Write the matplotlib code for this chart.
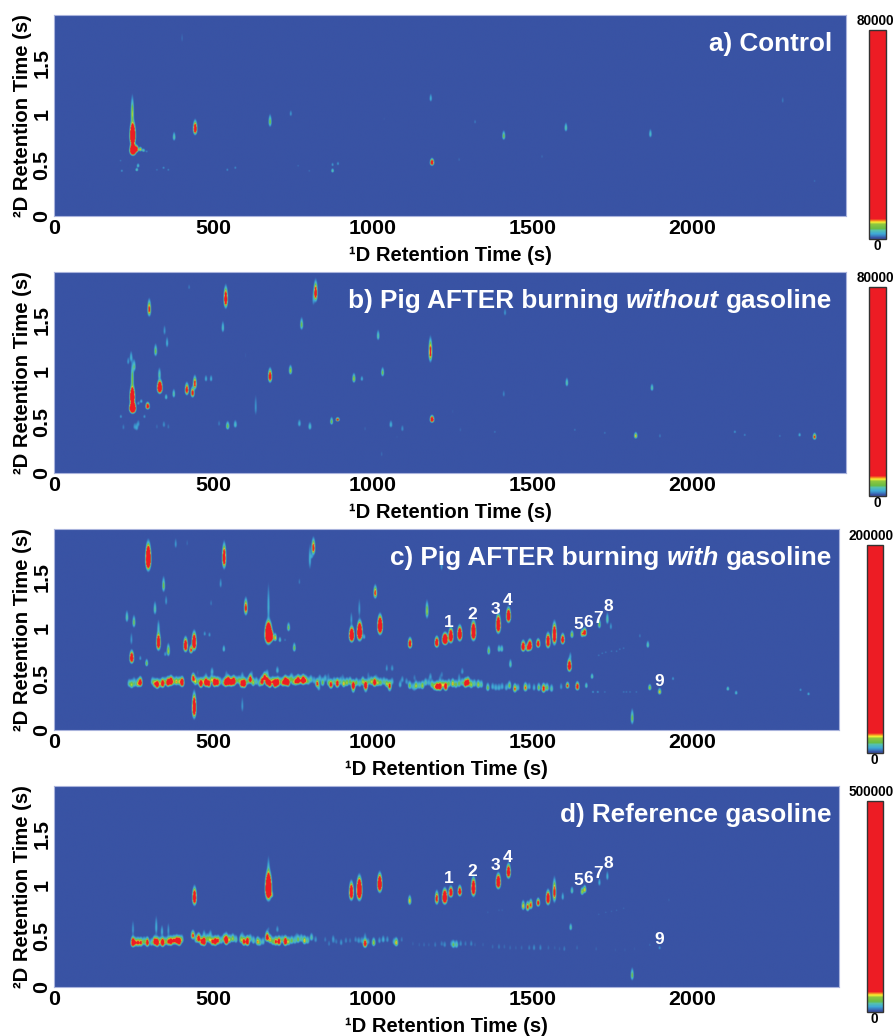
import numpy as np
import matplotlib
matplotlib.use("Agg")
import matplotlib.pyplot as plt
from matplotlib.colors import LinearSegmentedColormap, Normalize
from matplotlib.cm import ScalarMappable
from matplotlib.transforms import ScaledTranslation

plt.rcParams['font.family'] = ['Liberation Sans', 'DejaVu Sans']

# Data: (1D time s, 2D time s, height in % of colour scale, 2D spread s)
panel_titles = [[('a) Control', 'normal')],
                [('b) Pig AFTER burning', 'normal'), ('without', 'italic'), ('gasoline', 'normal')],
                [('c) Pig AFTER burning', 'normal'), ('with', 'italic'), ('gasoline', 'normal')],
                [('d) Reference gasoline', 'normal')]]
scale_tops = [80000, 80000, 200000, 500000]
x_tick_values = [0, 500, 1000, 1500, 2000]
y_tick_values = [0, 0.5, 1, 1.5]
y_tick_labels = ['0', '0.5', '1', '1.5']
number_labels = ['1', '2', '3', '4', '5', '6', '7', '8', '9']
number_rt1 = [1236, 1311, 1383, 1421, 1643, 1674, 1705, 1737, 1897]
number_rt2_c = [1.05, 1.13, 1.18, 1.27, 1.03, 1.05, 1.09, 1.21, 0.48]
number_rt2_d = [1.06, 1.13, 1.19, 1.27, 1.04, 1.06, 1.11, 1.21, 0.47]

a_peaks = [
    (247, .64, 50, .03), (246, .78, 40, .06), (245, 1.0, 5, .09), (258, .65, 14, .02), (270, .65, 6, .014), (280, .64, 3, .012),
    (290, .63, 1.2, .01), (376, .77, 3, .03), (442, .85, 14, .04), (677, .92, 4, .04), (742, 1.0, 1.5, .025),
    (1185, .52, 14, .02), (1181, 1.15, 2, .03), (873, .44, 3, .015), (873, .50, 1.5, .015), (890, .51, 1.5, .015),
    (259, .45, 3, .012), (263, .49, 2.5, .015), (208, .54, 1, .01), (212, .44, 1.5, .01), (322, .45, 1, .01),
    (343, .47, 1.5, .01), (358, .45, 1.2, .01), (543, .45, 1.3, .012), (568, .47, 1.3, .012), (765, .49, .9, .01),
    (800, .44, .9, .01), (1410, .78, 4, .03), (1605, .86, 3, .03), (1870, .80, 2.5, .03), (1320, .92, 1, .02),
    (1530, .58, .8, .02), (1270, .55, .8, .02), (2285, 1.13, 1, .03), (2385, .34, .9, .012), (401, 1.74, .8, .05),
    (200, 1.2, .5, .05), (112, .3, .5, .06), (150, .03, .5, .03), (515, 1.15, .4, .05), (940, 1.55, .4, .06),
    (1100, 1.5, .4, .05), (1035, .95, .6, .02), (2100, .2, .35, .06), (1450, 1.2, .35, .06), (2250, .1, .4, .04),
    (2335, .22, .35, .05), (2120, 1.1, .3, .06), (1740, 1.45, .3, .05), (700, .6, .35, .08), (1222, .35, .4, .06),
]
a_band = []

b_peaks = [
    (246, .63, 50, .03), (245, .74, 30, .05), (245, .92, 4, .09), (241, 1.13, 2, .04), (232, 1.09, 1.5, .03),
    (251, 1.04, 3, .04), (209, .55, 1.5, .015), (264, .68, 1.5, .015), (273, .70, 2, .015), (293, .65, 14, .02),
    (298, 1.60, 8, .05), (283, .55, 1.5, .015), (331, .83, 30, .035), (330, .96, 3, .04), (318, 1.19, 4, .04),
    (346, 1.39, 1.5, .04), (354, 1.27, 2, .04), (351, .74, 2.5, .02), (375, .77, 3, .03), (416, .81, 11, .035),
    (434, .78, 10, .03), (441, .87, 9, .04), (423, 1.82, 1, .025), (476, .92, 2, .025), (492, .92, 2, .025),
    (538, 1.70, 14, .06), (529, 1.42, 2.5, .04), (632, .64, 1.5, .08), (677, .94, 12, .04), (741, 1.0, 5, .03),
    (776, 1.45, 4, .04), (820, 1.76, 11, .06), (813, 1.70, 1.5, .06), (940, .92, 5, .03), (965, .92, 2, .02),
    (1030, .98, 4, .03), (1016, 1.34, 3, .035), (1180, 1.18, 9, .07), (1185, .52, 16, .02), (870, .50, 4, .025),
    (889, .52, 10, .012), (1608, .88, 3, .03), (1875, .83, 3, .025), (1414, 1.57, 1.5, .03), (1824, .36, 6, .02),
    (2385, .35, 8, .02), (2338, .37, 2, .015), (2276, .36, 1, .012), (2135, .40, 1.5, .012), (2166, .37, 1.2, .012),
    (1382, .40, 1, .012), (1633, .42, 1, .012), (1727, .39, 1, .012), (1410, .77, 1.2, .03), (1900, .36, 1, .02),
    (595, .18, .5, .08), (1027, .18, .8, .03), (208, .85, .5, .05), (600, 1.15, .6, .04), (1250, .6, .6, .03),
    (1500, .75, .5, .04), (2060, .75, .4, .05), (2090, .32, .4, .03), (2260, .95, .4, .04), (1075, .35, .6, .02),
]
b_band = [
    (217, .445, 1), (252, .45, 1.3), (259, .44, 1.6), (264, .48, 1.3), (322, .45, .8), (344, .47, 1.3),
    (358, .45, .9), (492, .455, .5), (517, .48, 1), (544, .455, 4), (568, .47, 2.5), (769, .48, 2),
    (802, .45, 2.5), (1056, .47, 2), (1092, .43, 1.3), (975, .43, .7), (1274, .42, .7), (1110, .45, .5),
]

c_peaks = [
    (228, 1.10, 3, .04), (250, 1.05, 4, .04), (243, .70, 18, .035), (242, .88, 1.5, .05), (270, .70, 1.5, .02),
    (290, .65, 4, .025), (295, 1.67, 35, .07), (316, 1.18, 3, .045), (327, .85, 18, .05), (327, 1.0, 2, .05),
    (343, 1.41, 4, .05), (351, 1.26, 1.5, .04), (381, 1.82, 1.5, .04), (417, 1.83, .8, .035), (358, .77, 5, .04),
    (348, .74, 1.5, .02), (412, .82, 18, .04), (429, .78, 8, .025), (439, .85, 22, .05), (439, .21, 18, .07),
    (472, .94, 1.5, .02), (487, .93, 1.5, .02), (492, 1.24, 1, .03), (533, 1.68, 14, .07), (522, 1.43, 1.5, .04),
    (532, .79, 2.5, .025), (601, 1.19, 9, .05), (590, .23, 1.5, .06), (672, .93, 60, .055), (672, 1.2, 2, .14),
    (680, .91, 25, .03), (693, .90, 6, .025), (708, .88, 2.5, .02), (724, .88, 1, .015), (735, 1.0, 4, .03), (753, .80, 4, .03),
    (769, 1.45, 1, .03), (802, 1.67, 2, .09), (813, 1.78, 9, .05), (808, 1.70, 1.5, .02), (933, .92, 30, .04),
    (932, 1.08, 1.5, .05), (958, .95, 35, .05), (957, 1.18, 1.5, .07), (972, .91, 2, .02), (1007, 1.34, 8, .04),
    (1022, 1.01, 30, .05), (1116, .84, 14, .03), (1169, 1.16, 3, .06), (1200, .85, 18, .03), (1226, .88, 40, .03),
    (1244, .91, 25, .04), (1272, .93, 25, .04), (1315, .95, 30, .05), (1393, 1.02, 25, .05), (1425, 1.11, 22, .04),
    (1363, .77, 4, .03), (1395, .79, 3, .025), (1404, .79, 3, .025), (1471, .81, 18, .03), (1485, .80, 8, .025),
    (1492, .82, 22, .03), (1518, .84, 14, .025), (1549, .86, 20, .04), (1569, .92, 20, .06), (1595, .88, 14, .03),
    (1624, .93, 5, .025), (1656, .94, 6, .025), (1664, .95, 12, .025), (1710, 1.03, 4, .03), (1735, 1.08, 3, .04),
    (1746, 1.01, 1.5, .03), (1708, .73, 1, .01), (1719, .75, 1, .01), (1730, .76, 1, .01), (1748, .77, 1, .01),
    (1764, .77, 1, .01), (1774, .79, 1, .01), (1786, .80, 1, .01), (1837, .92, 1, .02), (1862, .83, 3, .025),
    (1616, .62, 18, .035), (1619, .72, 1.5, .03), (1431, .64, 3, .03), (1813, .11, 4, .05), (1899, .37, 6, .02),
    (1868, .41, 5, .02), (1941, .50, 1.5, .015), (2113, .40, 3, .015), (2139, .36, 2.5, .015), (2341, .39, 1.5, .012),
    (2366, .35, 2, .012), (1687, .52, 3, .02), (1669, .43, 3, .02), (1641, .42, 12, .025), (1610, .43, 8, .02),
    (1786, .37, 1, .01), (1795, .37, 1, .01), (1806, .37, 1, .01), (1826, .37, 1, .01), (1690, .37, 1.5, .01),
    (1705, .37, 1.5, .01), (1727, .37, 1, .01), (1215, 1.60, 1.5, .04), (1170, 1.16, 2, .05), (1043, .60, 1.5, .03),
]
c_band = [
    (235, .45, 3), (243, .44, 5), (252, .45, 3), (262, .45, 5), (270, .46, 14), (308, .47, 3), (315, .45, 6),
    (323, .44, 14), (331, .45, 4), (340, .45, 14), (348, .47, 3), (357, .46, 16), (366, .47, 18), (374, .47, 4),
    (383, .47, 6), (392, .47, 5), (401, .46, 18), (436, .50, 10), (443, .47, 5), (452, .47, 3), (460, .45, 14),
    (468, .47, 4), (476, .46, 18), (485, .45, 12), (494, .49, 5), (503, .46, 18), (512, .46, 12), (520, .47, 3),
    (530, .46, 3), (538, .46, 16), (546, .47, 24), (555, .46, 12), (563, .47, 18), (572, .48, 3), (580, .48, 4),
    (588, .45, 12), (596, .45, 18), (606, .47, 3), (615, .49, 12), (624, .46, 5), (634, .47, 3), (644, .45, 3),
    (652, .47, 12), (660, .51, 10), (668, .47, 18), (676, .45, 14), (685, .47, 6), (693, .45, 20), (701, .46, 14),
    (709, .47, 3), (717, .46, 7), (725, .47, 20), (733, .46, 14), (741, .49, 3), (749, .47, 4), (757, .47, 8),
    (765, .48, 14), (773, .48, 5), (781, .48, 18), (789, .48, 6), (797, .47, 3), (805, .49, 3), (815, .48, 2),
    (825, .45, 8), (833, .50, 2), (842, .46, 4), (850, .50, 2), (860, .46, 3), (868, .44, 10), (878, .47, 3),
    (888, .45, 12), (898, .47, 3), (908, .45, 6), (918, .46, 5), (928, .47, 4), (938, .43, 14), (948, .46, 4),
    (958, .45, 3), (968, .47, 5), (977, .43, 16), (986, .47, 3), (995, .47, 5), (1005, .46, 14), (1015, .46, 5),
    (1024, .46, 4), (1034, .47, 3), (1043, .45, 5), (1052, .43, 8), (1060, .47, 2), (1085, .44, 2), (1092, .49, 1.5),
    (1105, .47, 1.5), (1115, .43, 4), (1125, .42, 2), (1135, .43, 5), (1145, .43, 3), (1155, .43, 5), (1165, .46, 3),
    (1175, .46, 2), (1185, .44, 4), (1193, .42, 5), (1201, .42, 12), (1210, .42, 14), (1219, .44, 5), (1228, .42, 14),
    (1238, .45, 4), (1250, .45, 6), (1260, .44, 4), (1270, .45, 4), (1280, .46, 3), (1290, .45, 12), (1298, .46, 12),
    (1308, .44, 5), (1318, .45, 3), (1330, .44, 5), (1340, .44, 3), (1360, .41, 4), (1375, .42, 2), (1385, .41, 2),
    (1395, .41, 2), (1405, .42, 2), (1418, .41, 2), (1428, .43, 4), (1445, .40, 7), (1455, .41, 2), (1478, .41, 7),
    (1490, .42, 2), (1505, .41, 2), (1520, .41, 4), (1535, .40, 10), (1546, .41, 4), (1560, .40, 3), (1590, .42, 1.5),
    (1280, .57, 1.5), (1270, .52, 1), (1216, .54, 1), (1180, .52, 1.5), (1130, .51, 1),
    (450, .56, .7), (476, .53, 1), (495, .57, 2), (540, .55, 1), (590, .53, 1.5), (620, .55, 1), (668, .55, 2),
    (700, .58, 2), (745, .52, 1.5), (1060, .60, 1.5), (860, .53, .8), (905, .52, .8), (985, .54, .8), (1010, .52, .7),
    (1130, .40, 1), (1210, .50, 1), (250, .49, .8), (830, .41, 2), (938, .39, 3), (977, .39, 2), (1052, .40, 2),
]

d_peaks = [
    (440, .87, 18, .05), (672, .96, 50, .07), (672, 1.15, 2, .08), (682, .90, 4, .02), (932, .92, 20, .05),
    (957, .94, 35, .06), (1021, 1.0, 25, .05), (1115, .84, 6, .03), (1200, .86, 10, .04), (1225, .87, 30, .04),
    (1244, .92, 18, .03), (1272, .93, 14, .03), (1315, .96, 22, .05), (1393, 1.02, 25, .04), (1425, 1.12, 18, .04),
    (1360, .73, .7, .015), (1395, .75, .7, .015), (1405, .75, .7, .015), (1471, .79, 6, .03), (1485, .78, 8, .03),
    (1495, .80, 8, .03), (1518, .82, 10, .025), (1549, .86, 18, .04), (1569, .92, 9, .07), (1595, .88, 2, .03),
    (1624, .94, 3, .025), (1656, .93, 5, .025), (1664, .95, 6, .025), (1710, 1.02, 2, .03), (1735, 1.08, 2, .035),
    (1708, .71, .8, .01), (1730, .73, .8, .01), (1748, .74, .8, .01), (1764, .75, .8, .01), (1786, .77, .8, .01),
    (1620, .58, 3, .025), (1813, .11, 4, .04), (1928, .85, .7, .02), (1899, .38, 1.5, .015), (1868, .41, .8, .015),
    (247, .56, 1.5, .06), (320, .58, 2, .07), (338, .54, 2, .04), (358, .55, 1.5, .05), (673, .57, .7, .02),
]
d_band = [
    (247, .43, 22), (255, .43, 6), (263, .43, 8), (272, .43, 8), (282, .44, 4), (292, .43, 12), (305, .43, 3),
    (315, .44, 12), (323, .43, 16), (332, .44, 4), (340, .43, 16), (349, .44, 4), (358, .44, 8), (366, .44, 12),
    (375, .45, 8), (384, .45, 12), (392, .44, 16), (400, .46, 4), (435, .50, 8), (445, .46, 3), (453, .47, 12),
    (462, .44, 8), (470, .44, 18), (480, .47, 4), (488, .46, 5), (496, .44, 8), (505, .44, 14), (514, .45, 8),
    (524, .45, 3), (533, .47, 5), (540, .45, 20), (550, .46, 5), (560, .47, 5), (570, .46, 3), (586, .46, 5),
    (595, .44, 10), (606, .44, 16), (615, .47, 3), (625, .45, 3), (638, .44, 6), (645, .43, 3), (655, .44, 2.5),
    (668, .48, 12), (677, .46, 6), (686, .44, 4), (695, .44, 8), (705, .44, 12), (715, .46, 3), (725, .44, 16),
    (735, .44, 5), (745, .45, 4), (755, .45, 3), (765, .46, 4), (775, .47, 3), (785, .45, 6), (795, .45, 3),
    (807, .48, 3), (820, .46, 1.5), (850, .46, 1), (862, .42, 1), (875, .45, 1.2), (885, .44, 1), (900, .43, 1.5),
    (915, .45, 1.2), (928, .45, 1), (945, .46, 1.2), (955, .45, 1.5), (965, .45, 1.5), (975, .42, 12), (985, .44, 1.5),
    (1002, .43, 5), (1020, .45, 1.5), (1032, .46, 2), (1045, .46, 1.5), (1065, .44, 1.5), (1073, .43, 6), (1090, .46, 1),
    (1125, .42, .7), (1145, .41, .7), (1160, .41, .8), (1175, .41, .7), (1195, .41, 1), (1215, .42, 1), (1225, .41, 1.3),
    (1245, .42, 1), (1252, .41, 3.5), (1262, .41, 3), (1275, .42, 1.3), (1290, .42, 1), (1308, .42, 1.2), (1320, .41, .7),
    (1345, .41, .7), (1375, .39, .8), (1395, .39, 1), (1412, .39, .8), (1430, .38, .8), (1448, .38, .7),
    (1466, .38, .8), (1490, .38, 1), (1505, .38, 1.3), (1525, .38, 1.2), (1550, .38, .8), (1570, .38, .7),
    (1585, .37, .7), (1600, .37, 1), (1640, .38, .8), (1700, .37, .7), (1760, .36, .6), (1790, .36, .6), (1820, .37, .6),
    (470, .52, 1.5), (490, .52, 1.5), (540, .51, 1), (590, .51, 1), (668, .53, 1), (700, .56, 1.5), (760, .50, .8),
    (975, .50, 1), (875, .48, .7),
]

panel_peaks = [a_peaks, b_peaks, c_peaks, d_peaks]
panel_bands = [a_band, b_band, c_band, d_band]

# Layout (pixels)
W, H = 896, 1036
PX_PER_S = 0.319
boxes = [(54, 846, 15, 216), (54, 846, 272, 473), (54, 839, 529, 730), (54, 839, 786, 987)]
bars = [(869, 886, 30, 239), (869, 886, 287, 496), (867, 883, 545, 753), (867, 883, 801, 1012)]
bar_label_x = [875.5, 875.5, 871, 871.5]
BG = '#3953a4'

cmap = LinearSegmentedColormap.from_list('gcxgc', [
    (0.0, BG), (0.006, BG), (0.014, '#3a7cbf'), (0.025, '#3fa9d6'), (0.04, '#55c1ae'), (0.05, '#6abd45'),
    (0.07, '#8dc63f'), (0.08, '#f9ed32'), (0.088, '#f58220'), (0.096, '#ed1c24'), (1.0, '#ed1c24')], N=1024)

def rect(l, r, t, b):
    return [l / W, 1 - b / H, (r - l) / W, (b - t) / H]

def surface(peaks, band, xmax):
    xs = np.linspace(0, xmax, 1600)
    ys = np.linspace(0, 1.97, 500)
    z = np.zeros((ys.size, xs.size))
    shapes = [(p, 2.7 + p[2] / 30) for p in peaks] + [((b[0], b[1], b[2], 0.028), 3.3) for b in band]
    for (rt1, rt2, h, s), sx in shapes:
        gx = np.exp(-0.5 * ((xs - rt1) / sx) ** 2)
        d = ys - rt2
        sig = np.where(d > 0, 1.05 * s, 0.62 * s)
        z += 1.5 * h * np.outer(np.exp(-0.5 * (d / sig) ** 2), gx)
    return z

fig = plt.figure(figsize=(W / 100, H / 100), dpi=100, facecolor='white')
ytick_shift = ScaledTranslation(0, 3 / 100, fig.dpi_scale_trans)
renderer = fig.canvas.get_renderer()

for i, (l, r, t, b) in enumerate(boxes):
    ax = fig.add_axes(rect(l, r, t, b))
    xmax = (r - l) / PX_PER_S
    z = surface(panel_peaks[i], panel_bands[i], xmax)
    ax.imshow(z, origin='lower', extent=(0, xmax, 0, 1.97), aspect='auto', cmap=cmap,
              norm=Normalize(0, 100), interpolation='bilinear')
    ax.set_xlim(0, xmax)
    ax.set_ylim(0, 1.97)
    ax.set_xticks(x_tick_values)
    ax.set_xticklabels([str(v) for v in x_tick_values], fontsize=15.4, fontweight='bold')
    ax.set_yticks(y_tick_values)
    ax.set_yticklabels(y_tick_labels, fontsize=15.4, fontweight='bold', rotation=90, va='center')
    for lab in ax.get_yticklabels():
        lab.set_transform(lab.get_transform() + ytick_shift)
    ax.tick_params(length=0, pad=2)
    for s in ax.spines.values():
        s.set_color('#a9b3dc')
        s.set_linewidth(0.8)
    ax.set_xlabel('¹D Retention Time (s)', fontsize=14.6, fontweight='bold', labelpad=6)
    ax.set_ylabel('²D Retention Time (s)', fontsize=14.6, fontweight='bold', labelpad=0)
    # title pieces are laid out leftward from the right edge
    x_px = 832
    y_data = 1.62
    for txt, style in reversed(panel_titles[i]):
        tobj = ax.text((x_px - l) / PX_PER_S, y_data, txt, color='white', fontsize=18.8, fontweight='bold',
                       fontstyle=style, ha='right', va='baseline')
        x_px -= tobj.get_window_extent(renderer).width + 7
    if i >= 2:
        ys_num = number_rt2_c if i == 2 else number_rt2_d
        for lab, xv, yv in zip(number_labels, number_rt1, ys_num):
            ax.text(xv, yv, lab, color='white', fontsize=12.5, fontweight='bold', ha='center', va='center')

for i, (l, r, t, b) in enumerate(bars):
    cax = fig.add_axes(rect(l, r, t, b))
    cb = fig.colorbar(ScalarMappable(Normalize(0, scale_tops[i]), cmap), cax=cax)
    cb.set_ticks([])
    cb.outline.set_edgecolor('#333333')
    cb.outline.set_linewidth(1.0)
    fig.text(bar_label_x[i] / W, 1 - (t - 9) / H, str(scale_tops[i]), fontsize=9.8, fontweight='bold',
             ha='center', va='center')
    fig.text(((l + r) / 2 - 0.5) / W, 1 - (b + 7) / H, '0', fontsize=9.8, fontweight='bold', ha='center', va='center')

fig.savefig('out.png', dpi=100, facecolor='white')
